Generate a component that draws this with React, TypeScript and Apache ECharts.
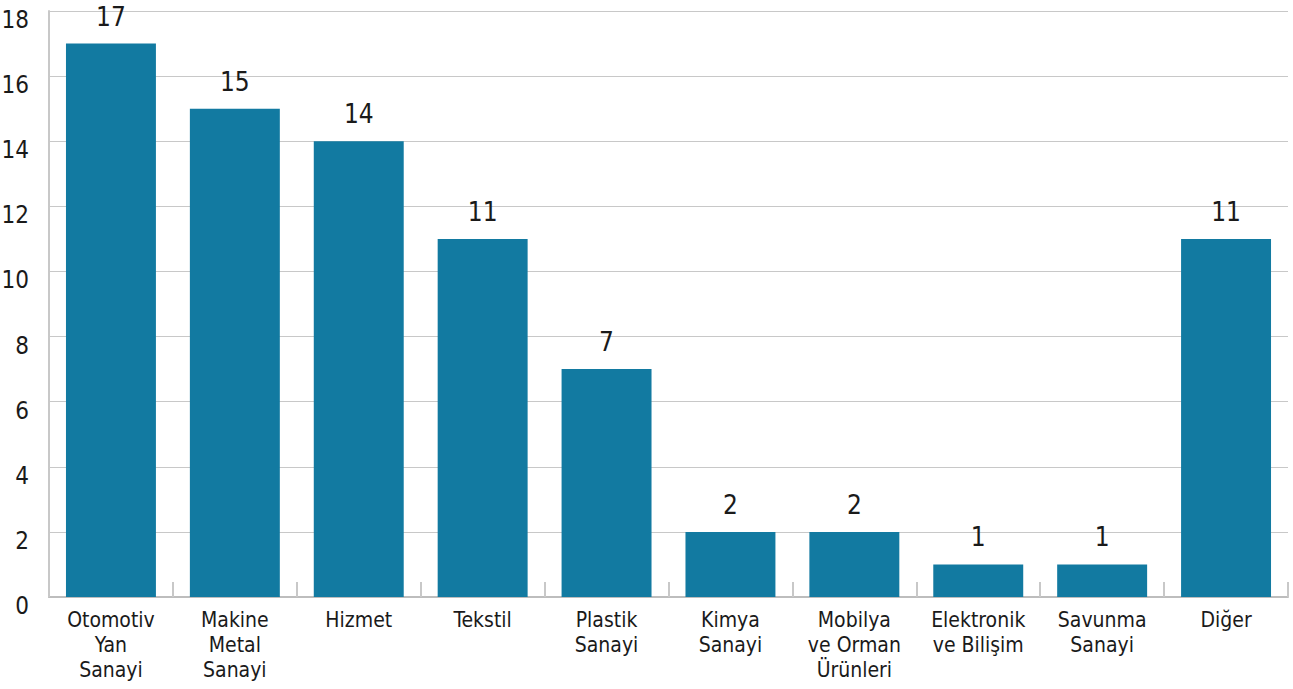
import React, { useEffect, useRef } from "react";
import * as echarts from "echarts";

const categories = [
  "Otomotiv\nYan\nSanayi",
  "Makine\nMetal\nSanayi",
  "Hizmet",
  "Tekstil",
  "Plastik\nSanayi",
  "Kimya\nSanayi",
  "Mobilya\nve Orman\nÜrünleri",
  "Elektronik\nve Bilişim",
  "Savunma\nSanayi",
  "Diğer",
];
const values = [17, 15, 14, 11, 7, 2, 2, 1, 1, 11];
const yMin = 0;
const yMax = 18;
const yInterval = 2;

const FONT = "'DejaVu Sans Condensed', 'Liberation Sans Narrow', 'Liberation Sans', sans-serif";

export default function App() {
  const ref = useRef<HTMLDivElement>(null);
  useEffect(() => {
    const chart = echarts.init(ref.current!, null, { renderer: "svg" });
    chart.setOption({
      animation: false,
      backgroundColor: "#ffffff",
      grid: {
        left: 49,
        right: 5,
        top: 11,
        bottom: 92,
        containLabel: false,
        outerBoundsMode: "none",
      },
      xAxis: {
        type: "category",
        data: categories,
        axisLine: { show: true, lineStyle: { color: "#bdbdbd", width: 2 } },
        axisTick: { show: true, inside: true, length: 15, lineStyle: { color: "#c8c8c8", width: 2 } },
        axisLabel: {
          interval: 0,
          margin: 10,
          fontFamily: FONT,
          fontSize: 21,
          lineHeight: 25,
          color: "#1a1a1a",
        },
      },
      yAxis: {
        type: "value",
        min: yMin,
        max: yMax,
        interval: yInterval,
        axisLine: { show: true, lineStyle: { color: "#c8c8c8", width: 2 } },
        axisTick: { show: false },
        splitLine: { show: true, lineStyle: { color: "#c8c8c8", width: 1 } },
        axisLabel: {
          fontFamily: FONT,
          fontSize: 24,
          color: "#1a1a1a",
          margin: 20,
          verticalAlign: "top",
          lineHeight: 18,
        },
      },
      series: [
        {
          type: "bar",
          data: values,
          barWidth: "72.6%",
          itemStyle: { color: "#127aa1" },
          label: {
            show: true,
            position: "top",
            distance: 14,
            fontFamily: FONT,
            fontSize: 26,
            color: "#1a1a1a",
          },
        },
      ],
    });
    return () => chart.dispose();
  }, []);
  return (
    <div
      ref={ref}
      style={{ position: "fixed", left: 0, top: 0, width: 1293, height: 689 }}
    />
  );
}
